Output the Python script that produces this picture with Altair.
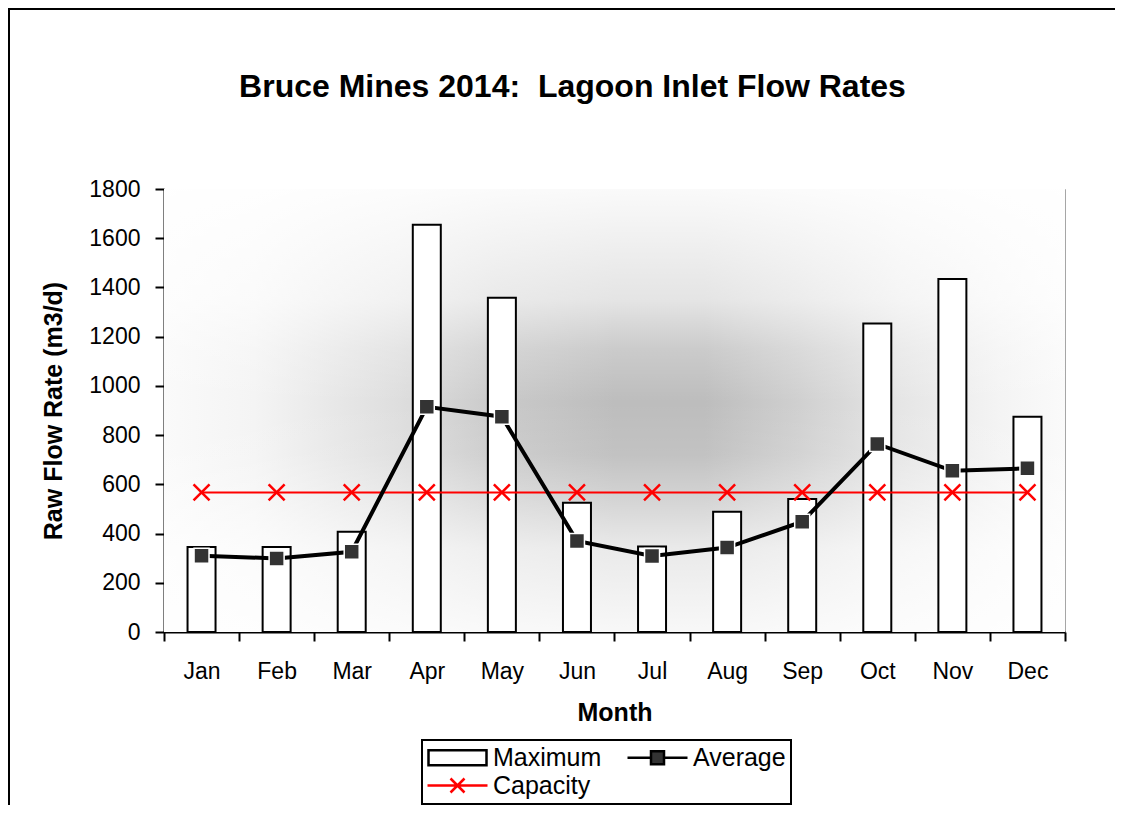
import altair as alt
import pandas as pd

months = ["Jan", "Feb", "Mar", "Apr", "May", "Jun", "Jul", "Aug", "Sep", "Oct", "Nov", "Dec"]
maximum = [345, 345, 407, 1655, 1358, 525, 347, 489, 540, 1254, 1434, 875]
average = [310, 299, 326, 915, 875, 370, 309, 343, 448, 764, 655, 665]
capacity = [567, 567, 567, 567, 567, 567, 567, 567, 567, 567, 567, 567]
series_names = ["Maximum", "Average", "Capacity"]
y_ticks = [0, 200, 400, 600, 800, 1000, 1200, 1400, 1600, 1800]

wide = pd.DataFrame({"Month": months, "Maximum": maximum, "Average": average, "Capacity": capacity})
long = wide.melt(id_vars="Month", var_name="Series", value_name="Value")
one = pd.DataFrame({"k": [0]})

W, H = 901, 443
FONT = "Liberation Sans"

x_enc = alt.X(
    "Month:N", sort=months,
    scale=alt.Scale(type="band", paddingInner=0, paddingOuter=0),
    axis=alt.Axis(title="Month", labelAngle=0, tickBand="extent", labelPadding=19, titlePadding=17),
)
y_enc = alt.Y(
    "Value:Q",
    scale=alt.Scale(domain=[0, 1800], nice=False),
    axis=alt.Axis(title="Raw Flow Rate (m3/d)", values=y_ticks, format="d",
                  labelPadding=15, titlePadding=22, grid=False),
)

# background gradient (horizontal gray profile + vertical white fade)
bg_h = alt.Chart(one).mark_rect(
    fill=alt.LinearGradient(
        gradient="linear", x1=0, x2=1, y1=0, y2=0,
        stops=[
            alt.GradientStop(color="#fafafa", offset=0),
            alt.GradientStop(color="#f4f4f4", offset=0.1),
            alt.GradientStop(color="#dedede", offset=0.26),
            alt.GradientStop(color="#cacaca", offset=0.37),
            alt.GradientStop(color="#bdbdbd", offset=0.5),
            alt.GradientStop(color="#bdbdbd", offset=0.6),
            alt.GradientStop(color="#cfcfcf", offset=0.7),
            alt.GradientStop(color="#e6e6e6", offset=0.82),
            alt.GradientStop(color="#f4f4f4", offset=0.93),
            alt.GradientStop(color="#fafafa", offset=1),
        ],
    )
).encode(x=alt.value(0), x2=alt.value(W), y=alt.value(0), y2=alt.value(H))

bg_v = alt.Chart(one).mark_rect(
    fill=alt.LinearGradient(
        gradient="linear", x1=0, x2=0, y1=0, y2=1,
        stops=[
            alt.GradientStop(color="rgba(255,255,255,0.92)", offset=0),
            alt.GradientStop(color="rgba(255,255,255,0.6)", offset=0.25),
            alt.GradientStop(color="rgba(255,255,255,0.22)", offset=0.36),
            alt.GradientStop(color="rgba(255,255,255,0)", offset=0.48),
            alt.GradientStop(color="rgba(255,255,255,0.08)", offset=0.6),
            alt.GradientStop(color="rgba(255,255,255,0.35)", offset=0.7),
            alt.GradientStop(color="rgba(255,255,255,0.68)", offset=0.81),
            alt.GradientStop(color="rgba(255,255,255,0.89)", offset=1),
        ],
    )
).encode(x=alt.value(0), x2=alt.value(W), y=alt.value(0), y2=alt.value(H))

base = alt.Chart(long)

bars = base.transform_filter("datum.Series == 'Maximum'").mark_bar(
    size=28, fill="white", stroke="black", strokeWidth=2
).encode(x=x_enc, y=y_enc)

cap_line = base.transform_filter("datum.Series == 'Capacity'").mark_line(
    color="red", strokeWidth=2
).encode(x=x_enc, y=y_enc)

cap_pts = base.transform_filter("datum.Series == 'Capacity'").mark_point(
    shape="M-1,-1L1,1M-1,1L1,-1", size=256, stroke="red", strokeWidth=2.5, filled=False, opacity=1
).encode(x=x_enc, y=y_enc)

avg_line = base.transform_filter("datum.Series == 'Average'").mark_line(
    color="black", strokeWidth=4
).encode(x=x_enc, y=y_enc)

avg_pts = base.transform_filter("datum.Series == 'Average'").mark_point(
    shape="square", size=225, filled=True, fill="#333333", stroke="white", strokeWidth=1.5, opacity=1
).encode(x=x_enc, y=y_enc)

# legend-only layer (invisible marks, real scale-driven legend)
p_max = "M-2.9,-0.75H2.9V0.75H-2.9Z"
p_avg = "M-3,0H-0.65M0.65,0H3M-0.65,-0.65H0.65V0.65H-0.65Z"
p_cap = "M-3,0H3M-0.7,-0.7L0.7,0.7M-0.7,0.7L0.7,-0.7"

leg = alt.Legend(
    title=None, orient="none", legendX=258, legendY=551, columns=2, direction="horizontal",
    symbolSize=400, symbolOffset=18, labelOffset=23, symbolStrokeWidth=2.5, symbolOpacity=1,
    labelFont=FONT, labelFontSize=25, labelColor="black",
    padding=5, strokeColor="black", fillColor="white",
    columnPadding=20, rowPadding=2, labelLimit=0,
)
legend_layer = base.mark_point(opacity=0, filled=True).encode(
    x=x_enc, y=y_enc,
    fill=alt.Fill("Series:N", scale=alt.Scale(domain=series_names, range=["white", "#333333", "transparent"]), legend=leg),
    stroke=alt.Stroke("Series:N", scale=alt.Scale(domain=series_names, range=["black", "black", "red"]), legend=leg),
    shape=alt.Shape("Series:N", scale=alt.Scale(domain=series_names, range=[p_max, p_avg, p_cap]), legend=leg),
)

border = alt.Chart(one).mark_rect(fill="transparent", stroke="black", strokeWidth=2).encode(
    x=alt.value(-155), y=alt.value(-180), x2=alt.value(W + 300), y2=alt.value(H + 400)
)

chart = alt.layer(
    bg_h, bg_v, bars, cap_line, cap_pts, avg_line, avg_pts, legend_layer, border
).properties(
    width=W, height=H,
    background="white",
    title=alt.TitleParams(
        text="Bruce Mines 2014:\u00a0 Lagoon Inlet Flow Rates",
        font=FONT, fontSize=32, fontWeight="bold", color="black",
        anchor="middle", dx=-42, offset=-121, baseline="alphabetic",
    ),
    autosize=alt.AutoSizeParams(type="none"),
    padding={"left": 156, "top": 181, "right": 50, "bottom": 173},
).configure_view(
    stroke="#a6a6a6", strokeWidth=1
).configure_axis(
    labelFont=FONT, labelFontSize=23, labelColor="black",
    titleFont=FONT, titleFontSize=25, titleFontWeight="bold", titleColor="black",
    domainColor="black", domainWidth=2, tickColor="black", tickWidth=2, tickSize=9,
).configure_legend(
    strokeWidth=2
)

chart.save("out.html", embed_options={"renderer": "svg", "actions": False})
